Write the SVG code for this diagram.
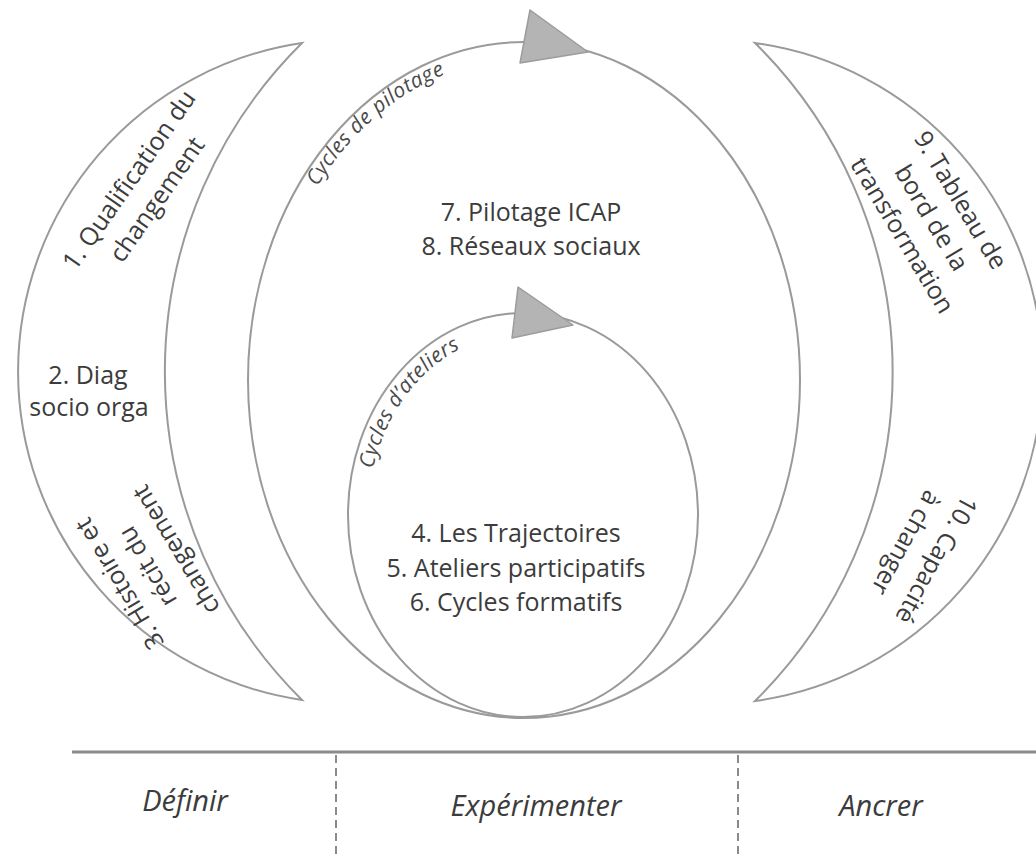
<svg xmlns="http://www.w3.org/2000/svg" xmlns:xlink="http://www.w3.org/1999/xlink" width="1036" height="854" viewBox="0 0 1036 854">
<style>
.shape{fill:#ffffff;stroke:#9a9a9a;stroke-width:2}
.loop{fill:none;stroke:#9a9a9a;stroke-width:2}
.head{fill:#b4b4b4;stroke:#9c9c9c;stroke-width:1.5;stroke-linejoin:round}
.lbl{font-family:"Open Sans","Noto Sans",sans-serif;font-size:25px;fill:#3c3c3c;text-anchor:middle}
.cyc{font-family:"Open Sans","Noto Sans",sans-serif;font-size:21px;font-style:italic;fill:#4a4a4a;letter-spacing:0.5px}
.phase{font-family:"Open Sans","Noto Sans",sans-serif;font-size:29px;font-style:italic;fill:#3c3c3c;text-anchor:middle}
.axis{stroke:#8a8a8a;stroke-width:3;fill:none}
.dash{stroke:#8a8a8a;stroke-width:2;stroke-dasharray:8 5;fill:none}
</style>
<defs>
<path id="p-pilotage" d="M 317.2 186.8 A 259 321 0 0 1 524 59 A 259 321 0 0 1 700 120"/>
<path id="p-ateliers" d="M 373 469 A 155 182 0 0 1 523 333 A 155 182 0 0 1 640 380"/>
</defs>
<rect width="1036" height="854" fill="#ffffff"/>

<g id="cycle-pilotage">
<ellipse class="loop" cx="524" cy="380" rx="276" ry="338"/>
<polygon class="head" points="530,10 520,63 588,52"/>
<text class="cyc"><textPath xlink:href="#p-pilotage" href="#p-pilotage">Cycles de pilotage</textPath></text>
<text class="lbl" x="531" y="221">7. Pilotage ICAP</text>
<text class="lbl" x="531" y="255">8. Réseaux sociaux</text>
</g>

<g id="cycle-ateliers">
<ellipse class="loop" cx="523" cy="515" rx="175" ry="202"/>
<polygon class="head" points="518,287 512,338 573,325"/>
<text class="cyc"><textPath xlink:href="#p-ateliers" href="#p-ateliers">Cycles d’ateliers</textPath></text>
<text class="lbl" x="516" y="542">4. Les Trajectoires</text>
<text class="lbl" x="516" y="577">5. Ateliers participatifs</text>
<text class="lbl" x="516" y="611">6. Cycles formatifs</text>
</g>

<g id="definir-crescent">
<path class="shape" d="M 302 43 A 332 332 0 0 0 302 700 A 462 462 0 0 1 302 43 Z"/>
<g transform="translate(143.5,190) rotate(-55)">
<text class="lbl" x="0" y="-9">1. Qualification du</text>
<text class="lbl" x="0" y="25">changement</text>
</g>
<text class="lbl" x="88" y="384">2. Diag</text>
<text class="lbl" x="89" y="416">socio orga</text>
<g transform="translate(149,566) rotate(-121)">
<text class="lbl" x="0" y="-26">3. Histoire et</text>
<text class="lbl" x="0" y="7">récit du</text>
<text class="lbl" x="0" y="40">changement</text>
</g>
</g>

<g id="ancrer-crescent">
<path class="shape" d="M 755 43 A 332 332 0 0 1 755 701 A 462 462 0 0 0 755 43 Z"/>
<g transform="translate(931,218) rotate(59)">
<text class="lbl" x="0" y="-26">9. Tableau de</text>
<text class="lbl" x="0" y="8">bord de la</text>
<text class="lbl" x="0" y="42">transformation</text>
</g>
<g transform="translate(920.7,551) rotate(119)">
<text class="lbl" x="0" y="-9.5">10. Capacité</text>
<text class="lbl" x="0" y="25.5">à changer</text>
</g>
</g>

<g id="connectors">
<line class="axis" x1="72" y1="752" x2="1036" y2="752"/>
<line class="dash" x1="336" y1="755" x2="336" y2="854"/>
<line class="dash" x1="738" y1="755" x2="738" y2="854"/>
</g>

<g id="phases">
<text class="phase" x="185" y="811">Définir</text>
<text class="phase" x="536" y="816">Expérimenter</text>
<text class="phase" x="881" y="816">Ancrer</text>
</g>
</svg>
